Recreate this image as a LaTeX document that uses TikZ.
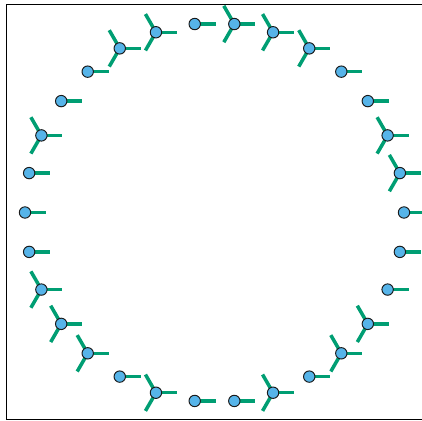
\documentclass[tikz,border=0pt]{standalone}
\definecolor{siteblue}{HTML}{56B4E9}
\definecolor{armgreen}{HTML}{009E73}
\definecolor{rimdark}{HTML}{1A1A1A}
\usepackage{tikz}
\usetikzlibrary{calc}
\tikzstyle{site} = [circle, inner sep=0pt, minimum size=0.228cm, draw=rimdark, line width=0.55pt, fill=siteblue]
\tikzstyle{arm} = [line width=2pt, color=armgreen]
\tikzstyle{frame} = [line width=1pt, color=black]

\begin{document}
\begin{tikzpicture}[x=0.02cm, y=0.02cm]
    \useasboundingbox (0,0) rectangle (422,421);
    % Axes frame (right side falls outside the page)
    \coordinate (bl) at (6.5,1.5);
    \coordinate (tl) at (6.5,416.5);
    \coordinate (tr) at (430,416.5);
    \coordinate (br) at (430,1.5);
    \draw[frame] (tr) -- (tl) -- (bl) -- (br);

    % Ring of sites
    \coordinate (ctr) at (214.5,208.5);
    \foreach \k in {0,...,29} {
        \coordinate (c\k) at ($(ctr)+(\k*12:189.5)$);
        \coordinate (e\k) at ($(c\k)+(0:21)$);
        \draw[arm] (c\k) -- (e\k);
    }

    % Three-armed sites
    \foreach \k in {1,2,5,6,7,9,10,13,17,18,19,21,24,26,27} {
        \coordinate (u\k) at ($(c\k)+(120:21)$);
        \coordinate (d\k) at ($(c\k)+(240:21)$);
        \draw[arm] (c\k) -- (u\k);
        \draw[arm] (c\k) -- (d\k);
    }

    % Beads on top
    \foreach \k in {0,...,29}
        \node[site] (s\k) at (c\k) {};
\end{tikzpicture}
\end{document}
